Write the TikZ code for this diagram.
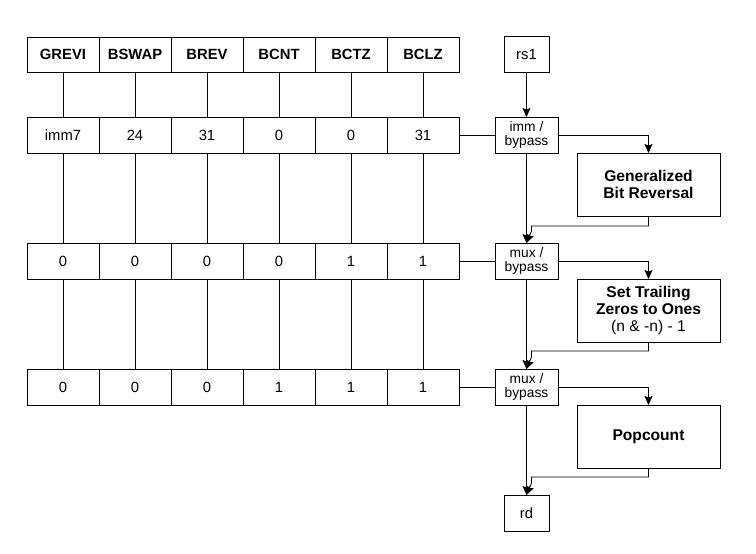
\documentclass[tikz,border=0pt]{standalone}
\usepackage{fontspec}
\setmainfont{Liberation Sans}
\usetikzlibrary{arrows, arrows.meta, positioning}
\tikzset{
-, % plain lines unless asked
>={Stealth[length=4.5pt, width=4pt, inset=0.8pt]}, % filled arrow heads
line width=0.5pt,
every node/.style={outer sep=0pt, inner sep=0pt}, % cells share their borders
node distance=22.5pt, % gap between the rows. Change if necessary.
op/.style={draw, minimum width=36pt, minimum height=17.5pt, font=\fontsize{7.4}{8.4}\selectfont\bfseries}, % the instruction names
val/.style={draw, minimum width=36pt, minimum height=18pt, font=\fontsize{7.4}{8.4}\selectfont}, % the control values
}
\tikzset{
  mux/.style={draw, minimum width=31.5pt, minimum height=18pt, align=center, font=\fontsize{6.9}{7.4}\selectfont},
  reg/.style={draw, minimum width=22.5pt, minimum height=18pt, font=\fontsize{7.4}{8.4}\selectfont},
  unit/.style={draw, minimum width=71.5pt, minimum height=31.5pt, align=center, font=\fontsize{7.8}{8.4}\selectfont\bfseries}
}

\begin{document}
\begin{tikzpicture}
      \useasboundingbox (0,0) rectangle (378pt,-276.5pt);

      \node[op] (grevi) at (31.5pt,-27.25pt) {GREVI};
      \node[op, right=0pt of grevi] (bswap) {BSWAP};
      \node[op, right=0pt of bswap] (brev) {BREV};
      \node[op, right=0pt of brev] (bcnt) {BCNT};
      \node[op, right=0pt of bcnt] (bctz) {BCTZ};
      \node[op, right=0pt of bctz] (bclz) {BCLZ};

      \node[val, below=of grevi] (i1) {imm7};
      \node[val, right=0pt of i1] (i2) {24};
      \node[val, right=0pt of i2] (i3) {31};
      \node[val, right=0pt of i3] (i4) {0};
      \node[val, right=0pt of i4] (i5) {0};
      \node[val, right=0pt of i5] (i6) {31};

      \node[val, below=45pt of i1] (t1) {0};
      \node[val, right=0pt of t1] (t2) {0};
      \node[val, right=0pt of t2] (t3) {0};
      \node[val, right=0pt of t3] (t4) {0};
      \node[val, right=0pt of t4] (t5) {1};
      \node[val, right=0pt of t5] (t6) {1};

      \node[val, below=45pt of t1] (p1) {0};
      \node[val, right=0pt of p1] (p2) {0};
      \node[val, right=0pt of p2] (p3) {0};
      \node[val, right=0pt of p3] (p4) {1};
      \node[val, right=0pt of p4] (p5) {1};
      \node[val, right=0pt of p5] (p6) {1};

      \node[mux, right=18pt of i6] (immmux) {imm /\\bypass};
      \node[mux, right=18pt of t6] (tzmux) {mux /\\bypass};
      \node[mux, right=18pt of p6] (pcmux) {mux /\\bypass};
      \node[reg, above=of immmux] (rs1) {rs1};
      \node[reg, below=45pt of pcmux] (rd) {rd};

      \node[unit, below right=0pt and 9.5pt of immmux] (grev) {Generalized\\Bit Reversal};
      \node[unit, below right=0pt and 9.5pt of tzmux] (tzo) {Set Trailing\\Zeros to Ones\\{\mdseries (n \& -n) - 1}};
      \node[unit, below right=0pt and 9.5pt of pcmux] (popc) {Popcount};

      \draw (grevi) edge node{} (i1)
      (bswap) edge node{} (i2)
      (brev) edge node{} (i3)
      (bcnt) edge node{} (i4)
      (bctz) edge node{} (i5)
      (bclz) edge node{} (i6)
      (i1) edge node{} (t1)
      (i2) edge node{} (t2)
      (i3) edge node{} (t3)
      (i4) edge node{} (t4)
      (i5) edge node{} (t5)
      (i6) edge node{} (t6)
      (t1) edge node{} (p1)
      (t2) edge node{} (p2)
      (t3) edge node{} (p3)
      (t4) edge node{} (p4)
      (t5) edge node{} (p5)
      (t6) edge node{} (p6)
      (i6) edge node{} (immmux)
      (t6) edge node{} (tzmux)
      (p6) edge node{} (pcmux);

      \draw[->] (rs1) -- (immmux);
      \draw[->] (immmux) -| (grev);
      \draw[->] (immmux) -- (tzmux);
      \draw[->] (grev.south) -- ++(0,-5pt) -| ([xshift=2.5pt, yshift=6pt]tzmux.north) -- (tzmux.north);
      \draw[->] (tzmux) -| (tzo);
      \draw[->] (tzmux) -- (pcmux);
      \draw[->] (tzo.south) -- ++(0,-4.5pt) -| ([xshift=2.5pt, yshift=6pt]pcmux.north) -- (pcmux.north);
      \draw[->] (pcmux) -| (popc);
      \draw[->] (pcmux) -- (rd);
      \draw[->] (popc.south) -- ++(0,-4.5pt) -| ([xshift=2.5pt, yshift=6pt]rd.north) -- (rd.north);
    \end{tikzpicture}
\end{document}
